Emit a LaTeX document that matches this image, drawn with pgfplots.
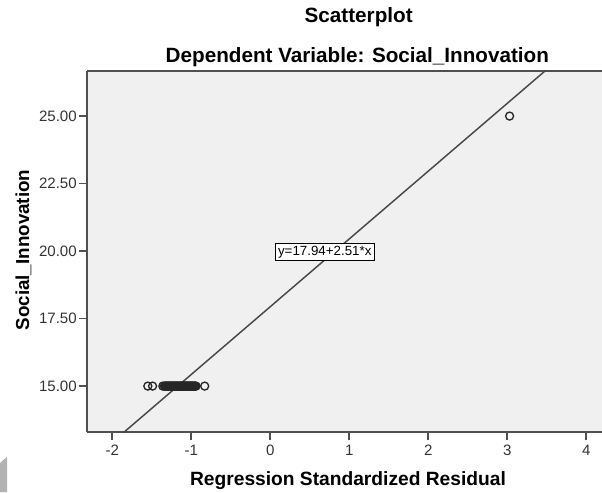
\documentclass[border=0pt]{standalone}
\usepackage{pgfplots}
\pgfplotsset{compat=1.18}
\usepackage{fontspec}
\setmainfont{Liberation Sans}
\definecolor{bgc}{HTML}{F0F0F0}
\definecolor{axc}{HTML}{505050}
\definecolor{txc}{HTML}{333333}
\begin{document}
\begin{tikzpicture}
\begin{axis}[
  at={(65.25pt,45pt)}, anchor=south west,
  scale only axis, width=386.25pt, height=270.75pt,
  xmin=-2.32, xmax=4.2, ymin=13.3, ymax=26.67,
  axis x line*=box, axis y line*=left,
  axis line style={-, draw=axc, line width=1.4pt},
  axis background/.style={fill=bgc},
  xtick={-2,-1,0,1,2,3,4}, ytick={15,17.5,20,22.5,25},
  xtick pos=bottom, ytick pos=left,
  tick align=outside, major tick length=6pt,
  tick style={draw=axc, line width=1.3pt},
  /pgf/number format/assume math mode=true,
  yticklabel style={/pgf/number format/fixed, /pgf/number format/fixed zerofill, /pgf/number format/precision=2, font=\fontsize{11.3}{13}\selectfont, text=txc, inner xsep=1.5pt},
  xticklabel style={font=\fontsize{11.3}{13}\selectfont, text=txc},
  clip=true,
]
\addplot[draw=axc!90!black, line width=1.1pt, no marks] coordinates {(-2.4,11.916) (4.3,28.733)};
\addplot[only marks, mark=o, mark size=3pt, mark options={draw=black!85, line width=1pt}] coordinates {
(3.03,25)
(-1.55,15) (-1.49,15) (-1.36,15)
(-1.34,15) (-1.33,15) (-1.32,15) (-1.31,15) (-1.30,15) (-1.29,15) (-1.28,15) (-1.27,15)
(-1.26,15) (-1.25,15) (-1.24,15) (-1.23,15) (-1.22,15) (-1.21,15) (-1.20,15) (-1.19,15)
(-1.18,15) (-1.17,15) (-1.16,15) (-1.15,15) (-1.14,15) (-1.13,15) (-1.12,15) (-1.11,15)
(-1.10,15) (-1.09,15) (-1.08,15) (-1.07,15) (-1.06,15) (-1.05,15) (-1.04,15) (-1.03,15)
(-1.02,15) (-1.01,15) (-1.00,15) (-0.99,15) (-0.98,15) (-0.97,15) (-0.96,15) (-0.95,15)
(-0.94,15) (-0.83,15)
};
\node[draw=black, fill=white, inner sep=2pt, line width=0.6pt, font=\fontsize{10}{12}\selectfont] at (axis cs:0.69,19.96) {y=17.94+2.51*x};
\end{axis}
\node[font=\bfseries\fontsize{15.5}{18}\selectfont, anchor=base] at (269pt,351.75pt) {Scatterplot};
\node[font=\bfseries\fontsize{15.5}{18}\selectfont, anchor=base] at (268pt,321.75pt) {Dependent Variable: Social\_Innovation};
\node[font=\bfseries\fontsize{14.4}{17}\selectfont, anchor=base] at (261pt,5.25pt) {Regression Standardized Residual};
\node[font=\bfseries\fontsize{14.1}{17}\selectfont, anchor=base, rotate=90] at (21.75pt,181.5pt) {Social\_Innovation};
\fill[black!30] (0pt,21.75pt) -- (5.25pt,26.25pt) -- (5.25pt,0pt) -- (0pt,0pt) -- cycle;
\pgfresetboundingbox
\useasboundingbox (0,0) rectangle (451.5pt,369pt);
\end{tikzpicture}
\end{document}
